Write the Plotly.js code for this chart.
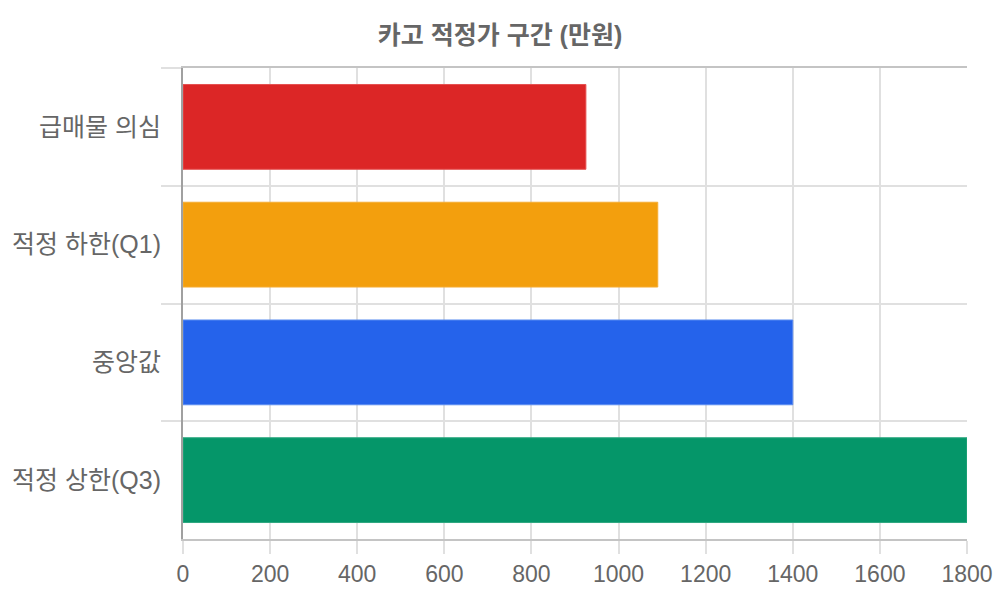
<!DOCTYPE html>
<html>
<head>
<meta charset="utf-8">
<script src="https://cdn.plot.ly/plotly-3.0.1.min.js"></script>
<style>
  html, body { margin: 0; padding: 0; background: #ffffff; }
  #graph { width: 1000px; height: 600px; }
</style>
</head>
<body>
<div id="graph"></div>
<script>
// 카고 적정가 구간 (만원)
const categories = ["급매물 의심", "적정 하한(Q1)", "중앙값", "적정 상한(Q3)"];
const prices = [925, 1090, 1400, 1800];
const barColors = ["#dc2626", "#f39f0d", "#2563eb", "#059669"];
const borderColors = ["#e55050", "#f5ad33", "#5a8cf0", "#2fa880"];
const xTicks = [0, 200, 400, 600, 800, 1000, 1200, 1400, 1600, 1800];

const fontFamily = "'Liberation Sans', Arial, 'Noto Sans CJK KR', sans-serif";

let trace = {
  type: "bar",
  orientation: "h",
  x: prices,
  y: categories,
  marker: {
    color: barColors,
    line: { color: borderColors, width: 1 },
  },
  hoverinfo: "x+y",
};

let layout = {
  width: 1000,
  height: 600,
  title: {
    text: "<b>카고 적정가 구간 (만원)</b>",
    x: 0.5,
    xanchor: "center",
    y: 0.942,
    yanchor: "middle",
    font: { size: 25, color: "#666666", family: fontFamily },
  },
  showlegend: false,
  bargap: 0.28,
  xaxis: {
    range: [0, 1800],
    tickvals: xTicks,
    ticktext: xTicks.map(String),
    showgrid: true,
    gridcolor: "#e0e0e0",
    gridwidth: 2,
    zeroline: false,
    showline: true,
    mirror: true,
    linecolor: "#c4c4c4",
    linewidth: 2,
    ticks: "outside",
    ticklen: 13,
    tickcolor: "#e0e0e0",
    tickwidth: 2,
    tickfont: { size: 23, color: "#666666", family: fontFamily },
    fixedrange: true,
  },
  yaxis: {
    type: "category",
    autorange: "reversed",
    tickson: "boundaries",
    showgrid: true,
    gridcolor: "#e0e0e0",
    gridwidth: 2,
    zeroline: false,
    showline: true,
    mirror: false,
    linecolor: "#a0a0a0",
    linewidth: 2,
    ticks: "outside",
    ticklen: 20,
    tickcolor: "#e0e0e0",
    tickwidth: 2,
    ticklabelstandoff: 15,
    tickfont: { size: 25, color: "#666666", family: fontFamily },
    fixedrange: true,
  },
  margin: { l: 183, r: 33, t: 68, b: 61, pad: 0 },
  paper_bgcolor: "#ffffff",
  plot_bgcolor: "#ffffff",
  font: { family: fontFamily, color: "#666666" },
};

let config = { displayModeBar: false, staticPlot: true };

Plotly.newPlot("graph", [trace], layout, config);
</script>
</body>
</html>
